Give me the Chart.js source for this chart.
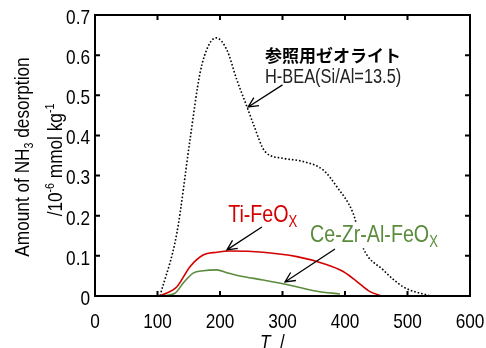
<!DOCTYPE html>
<html>
<head>
<meta charset="utf-8">
<script src="https://cdn.jsdelivr.net/npm/chart.js@4/dist/chart.umd.min.js"></script>
<style>
  html, body { margin: 0; padding: 0; background: #fff; }
  #wrap { width: 486px; height: 348px; }
</style>
</head>
<body>
<div id="wrap"><canvas id="myChart" width="486" height="348"></canvas></div>
<script>
// no narrow face installed, so Liberation Sans is squeezed horizontally
const FONT = '"Liberation Sans", Arial, sans-serif';
const NARROW = 0.82;

// temperature (x) / desorption (y)
const beaT   = [104, 131, 152, 168, 182, 194, 211, 227, 243, 253, 272, 301, 333, 365, 387, 413, 429, 461, 493, 536];
const beaVal = [0, 0.157, 0.389, 0.555, 0.625, 0.643, 0.613, 0.538, 0.472, 0.43, 0.36, 0.343, 0.335, 0.314, 0.272, 0.206, 0.12, 0.065, 0.023, 0];

const tiT   = [104, 131, 152, 173, 195, 216, 269, 323, 365, 397, 419, 440, 459];
const tiVal = [0, 0.023, 0.073, 0.102, 0.109, 0.112, 0.109, 0.098, 0.081, 0.061, 0.036, 0.011, 0];

const ceT   = [104, 128, 141, 157, 173, 195, 211, 232, 269, 312, 355, 392];
const ceVal = [0, 0.007, 0.032, 0.057, 0.063, 0.065, 0.058, 0.05, 0.04, 0.027, 0.012, 0.005];

const xTicks = [0, 100, 200, 300, 400, 500, 600];
const yTicks = [0, 0.1, 0.2, 0.3, 0.4, 0.5, 0.6, 0.7];

const RED = '#d40000';
const GREEN = '#5b8c3c';

function pts(xs, ys) {
    return xs.map((x, i) => ({ x: x, y: ys[i] }));
}

// label / arrow positions in data units (x = left edge, y = baseline)
const labels = [
    { x: 272, y: 0.583, parts: [['参照用ゼオライト', 0]], color: '#000', size: 17, cjk: true },
    { x: 272, y: 0.531, parts: [['H-BEA(Si/Al=13.5)', 0]], color: '#222', size: 20 },
    { x: 213, y: 0.184, parts: [['Ti-FeO', 0], ['X', 1]], color: RED, size: 24 },
    { x: 344, y: 0.135, parts: [['Ce-Zr-Al-FeO', 0], ['X', 1]], color: GREEN, size: 24, bg: true }
];
const arrows = [
    [300, 0.526, 245, 0.471],
    [267, 0.172, 211, 0.115],
    [384, 0.117, 304, 0.035]
];

// draw squeezed text, returns advance width
function narrow(c, text, x, y, font, align) {
    c.font = font;
    const w = c.measureText(text).width * NARROW;
    let sx = x;
    if (align === 'center') sx = x - w / 2;
    if (align === 'right') sx = x - w;
    c.save();
    c.translate(sx, y);
    c.scale(NARROW, 1);
    c.textAlign = 'left';
    c.fillText(text, 0, 0);
    c.restore();
    return w;
}

const framePlugin = {
    id: 'frame',
    afterDraw(chart) {
        const c = chart.ctx, a = chart.chartArea;
        const xs = chart.scales.x, ys = chart.scales.y;
        c.save();

        // annotations
        c.textBaseline = 'alphabetic';
        labels.forEach(l => {
            let px = xs.getPixelForValue(l.x);
            const py = ys.getPixelForValue(l.y);
            if (l.bg) {
                let w = 0;
                l.parts.forEach(([t, sub]) => {
                    c.font = (sub ? Math.round(l.size * 0.65) : l.size) + 'px ' + FONT;
                    w += c.measureText(t).width * NARROW;
                });
                c.fillStyle = '#fff';
                c.fillRect(px - 2, py - l.size * 0.78, w + 4, l.size * 1.05);
            }
            c.fillStyle = l.color;
            l.parts.forEach(([t, sub]) => {
                if (l.cjk) {
                    c.font = 'bold ' + l.size + 'px "Noto Sans CJK JP", sans-serif';
                    c.fillText(t, px, py);
                    px += c.measureText(t).width;
                } else if (sub) {
                    px += narrow(c, t, px, py + 5, Math.round(l.size * 0.65) + 'px ' + FONT);
                } else {
                    px += narrow(c, t, px, py, l.size + 'px ' + FONT);
                }
            });
        });
        c.strokeStyle = '#000';
        c.lineWidth = 1.3;
        arrows.forEach(([x0, y0, x1, y1]) => {
            const ax = xs.getPixelForValue(x0), ay = ys.getPixelForValue(y0);
            const bx = xs.getPixelForValue(x1), by = ys.getPixelForValue(y1);
            const ang = Math.atan2(by - ay, bx - ax);
            c.beginPath();
            c.moveTo(ax, ay); c.lineTo(bx, by);
            c.moveTo(bx - 11 * Math.cos(ang - 0.45), by - 11 * Math.sin(ang - 0.45));
            c.lineTo(bx, by);
            c.lineTo(bx - 11 * Math.cos(ang + 0.45), by - 11 * Math.sin(ang + 0.45));
            c.stroke();
        });

        // frame with inward ticks
        c.strokeStyle = '#000';
        c.lineWidth = 2;
        c.strokeRect(a.left, a.top, a.right - a.left, a.bottom - a.top);
        c.beginPath();
        xTicks.forEach(v => {
            const p = xs.getPixelForValue(v);
            c.moveTo(p, a.bottom); c.lineTo(p, a.bottom - 5);
            c.moveTo(p, a.top); c.lineTo(p, a.top + 5);
        });
        yTicks.forEach(v => {
            const p = ys.getPixelForValue(v);
            c.moveTo(a.left, p); c.lineTo(a.left + 5, p);
            c.moveTo(a.right, p); c.lineTo(a.right - 5, p);
        });
        c.stroke();

        // tick labels
        c.fillStyle = '#000';
        c.textBaseline = 'alphabetic';
        xTicks.forEach(v => {
            narrow(c, String(v), xs.getPixelForValue(v), 328, '21px ' + FONT, 'center');
        });
        c.textBaseline = 'middle';
        yTicks.forEach(v => {
            narrow(c, String(v), a.left - 5, ys.getPixelForValue(v) + 3, '21px ' + FONT, 'right');
        });

        // axis titles
        function rich(parts, size, cx, cy) {
            let w = 0;
            parts.forEach(([t, s]) => {
                c.font = (s ? Math.round(size * 0.6) : size) + 'px ' + FONT;
                w += c.measureText(t).width * NARROW;
            });
            let px = cx - w / 2;
            parts.forEach(([t, s]) => {
                const f = (s ? Math.round(size * 0.6) : size) + 'px ' + FONT;
                px += narrow(c, t, px, cy + (s === 1 ? size * 0.2 : s === -1 ? -size * 0.4 : 0), f);
            });
        }
        c.textBaseline = 'alphabetic';
        c.save();
        c.translate(29, 157);
        c.rotate(-Math.PI / 2);
        rich([['Amount of NH', 0], ['3', 1], [' desorption', 0]], 21, 0, 0);
        c.restore();
        c.save();
        c.translate(62, 160);
        c.rotate(-Math.PI / 2);
        rich([['/10', 0], ['-6', -1], [' mmol kg', 0], ['-1', -1]], 21, 0, 0);
        c.restore();

        narrow(c, 'T', 260, 349, 'italic 21px ' + FONT);
        narrow(c, '/', 280, 349, '21px ' + FONT);
        c.restore();
    }
};

const data = {
    datasets: [
        { label: 'H-BEA', data: pts(beaT, beaVal), borderColor: '#000', borderWidth: 1.6, borderDash: [1.6, 2], cubicInterpolationMode: 'monotone' },
        { label: 'Ti-FeOx', data: pts(tiT, tiVal), borderColor: RED, borderWidth: 1.6, cubicInterpolationMode: 'monotone' },
        { label: 'Ce-Zr-Al-FeOx', data: pts(ceT, ceVal), borderColor: GREEN, borderWidth: 1.6, cubicInterpolationMode: 'monotone' }
    ]
};

const config = {
    type: 'line',
    data: data,
    options: {
        responsive: false,
        animation: false,
        events: [],
        elements: { point: { radius: 0 } },
        layout: { padding: { left: 0, right: 16, top: 15, bottom: 0 } },
        plugins: { legend: { display: false }, tooltip: { enabled: false } },
        scales: {
            x: {
                type: 'linear', min: 0, max: 600,
                afterFit(s) { s.height = 52; },
                afterBuildTicks(s) { s.ticks = xTicks.map(v => ({ value: v })); },
                grid: { display: false, drawTicks: false },
                border: { display: false },
                ticks: { display: false }
            },
            y: {
                type: 'linear', min: 0, max: 0.7,
                afterFit(s) { s.width = 95; },
                afterBuildTicks(s) { s.ticks = yTicks.map(v => ({ value: v })); },
                grid: { display: false, drawTicks: false },
                border: { display: false },
                ticks: { display: false }
            }
        }
    },
    plugins: [framePlugin]
};

const myChart = new Chart(document.getElementById('myChart'), config);
</script>
</body>
</html>
